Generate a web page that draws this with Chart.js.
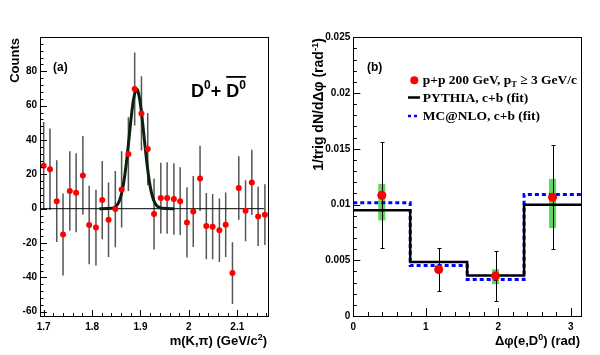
<!DOCTYPE html>
<html><head><meta charset="utf-8">
<script src="https://cdn.jsdelivr.net/npm/chart.js@4.4.1/dist/chart.umd.min.js"></script>
<style>
html,body{margin:0;padding:0;background:#fff;width:600px;height:355px;overflow:hidden}
canvas{position:absolute;top:0}
#c1{left:0}#c2{left:300px}
</style></head><body>
<canvas id="c1" width="300" height="355"></canvas>
<canvas id="c2" width="300" height="355"></canvas>
<script>
// ---------- panel (a) data ----------
const massX = [1.700,1.713,1.727,1.740,1.754,1.767,1.781,1.794,1.808,1.821,1.834,1.848,1.861,1.875,1.888,1.902,1.915,1.928,1.942,1.955,1.969,1.982,1.996,2.009,2.023,2.036,2.049,2.063,2.076,2.090,2.103,2.117,2.130,2.143,2.157];
const counts = [25,23,4.4,-15,10.3,9.3,19.4,-9.5,-11,5,-6.4,-0.2,11.2,31.8,69.7,55.5,34.7,-3.1,6.2,6.2,5.6,4.4,-8,-1.6,17.6,-10.1,-10.5,-12.6,-9.3,-37.5,12,-1.2,15.3,-4.5,-3.5];
const countErr = [25.5,23.7,23.8,23.9,23.2,23,22.9,22.8,22.1,22.8,21.7,22.2,22.2,21.5,21.2,21.6,21,20.7,20.6,20.8,20.8,19.7,20.5,20.7,19,19.3,19,18.5,18.8,18,18.5,17.7,19,17.3,17.7];
const fitX = [1.815,1.840,1.850,1.855,1.860,1.865,1.870,1.875,1.880,1.885,1.890,1.892,1.895,1.900,1.905,1.910,1.915,1.920,1.925,1.930,1.935,1.945,1.970];
const fitY = [0,0.2,1.6,3.7,7.8,14.7,24.7,37.5,51.1,62.6,68.9,69.5,68.2,60.6,48.4,34.8,22.5,13.0,6.8,3.2,1.3,0.2,0];
const massTicks = [1.7,1.8,1.9,2,2.1];
const countTicks = [-60,-40,-20,0,20,40,60,80];

// ---------- panel (b) data ----------
const dphiX = [0.393,1.178,1.963,2.749];
const corr = [0.01083,0.00417,0.00360,0.01065];
const corrStat = [0.00476,0.00197,0.00223,0.00466];
const sysLow = [0.00857,0.00390,0.00286,0.00788];
const sysHigh = [0.01185,0.00460,0.00420,0.01230];
const binEdges = [0,0.785,1.571,2.356,3.1416];
const pythia = [0.00949,0.00485,0.00363,0.00997];
const mcnlo = [0.01015,0.00453,0.00328,0.01089];
const dphiTicks = [0,1,2,3];
const corrTicks = [0,0.005,0.01,0.015,0.02,0.025];

const SANS = '"Liberation Sans", Arial, sans-serif';
const SERIF = '"Liberation Serif", "Times New Roman", serif';

function drawRich(ctx, parts, x, y, align){
  let w=0;
  parts.forEach(p=>{ctx.font=p.f; p.w=ctx.measureText(p.t).width; w+=p.w;});
  let cx = align==='right'? x-w : (align==='center'? x-w/2 : x);
  ctx.textAlign='left'; ctx.textBaseline='alphabetic';
  parts.forEach(p=>{ctx.font=p.f; ctx.fillText(p.t, cx, y+(p.dy||0)); p.x=cx; cx+=p.w;});
  return parts;
}
function drawTicks(chart, majorsX, minorX, majorsY, minorY, lenX, lenY){
  const ctx=chart.ctx, a=chart.chartArea, sx=chart.scales.x, sy=chart.scales.y;
  ctx.save(); ctx.strokeStyle='#000'; ctx.lineWidth=1;
  ctx.beginPath();
  minorX.forEach(v=>{const p=Math.round(sx.getPixelForValue(v))+0.5; const l=majorsX.some(m=>Math.abs(m-v)<1e-9)?lenX[0]:lenX[1]; ctx.moveTo(p,a.bottom); ctx.lineTo(p,a.bottom-l);});
  minorY.forEach(v=>{const p=Math.round(sy.getPixelForValue(v))+0.5; const l=majorsY.some(m=>Math.abs(m-v)<1e-9)?lenY[0]:lenY[1]; ctx.moveTo(a.left,p); ctx.lineTo(a.left+l,p);});
  ctx.stroke();
  ctx.strokeStyle='#000'; ctx.lineWidth=1;
  ctx.strokeRect(Math.round(a.left)+0.5, Math.round(a.top)+0.5, Math.round(a.right-a.left), Math.round(a.bottom-a.top));
  ctx.restore();
}
function range(a,b,s){const r=[];for(let v=a; v<=b+1e-9; v+=s) r.push(Math.round(v*1e6)/1e6); return r;}

// ---------- chart (a) ----------
const panelA = {
  id:'panelA',
  beforeDatasetsDraw(chart){
    const ctx=chart.ctx, sx=chart.scales.x, sy=chart.scales.y;
    ctx.save(); ctx.strokeStyle='#555'; ctx.lineWidth=1.5;
    ctx.beginPath();
    massX.forEach((m,i)=>{const px=sx.getPixelForValue(m);
      ctx.moveTo(px, sy.getPixelForValue(counts[i]+countErr[i]));
      ctx.lineTo(px, sy.getPixelForValue(counts[i]-countErr[i]));});
    ctx.stroke(); ctx.restore();
  },
  afterDraw(chart){
    const ctx=chart.ctx;
    drawTicks(chart, massTicks, range(1.70,2.16,0.02), countTicks, range(-60,96,4), [6,3], [7,3.5]);
    ctx.save(); ctx.fillStyle='#000';
    ctx.save(); ctx.translate(18.5,38); ctx.rotate(-Math.PI/2);
    drawRich(ctx,[{t:'Counts',f:'bold 13px '+SANS}],0,0,'right'); ctx.restore();
    drawRich(ctx,[{t:'m(K,',f:'bold 13px '+SANS},{t:'π',f:'bold 13px '+SANS},{t:') (GeV/c',f:'bold 13px '+SANS},{t:'2',f:'bold 9px '+SANS,dy:-5},{t:')',f:'bold 13px '+SANS}],267,345,'right');
    drawRich(ctx,[{t:'(a)',f:'bold 12px '+SANS}],53,71,'left');
    const p = drawRich(ctx,[{t:'D',f:'bold 18px '+SANS},{t:'0',f:'bold 12px '+SANS,dy:-8},{t:'+ ',f:'bold 18px '+SANS},{t:'D',f:'bold 18px '+SANS},{t:'0',f:'bold 12px '+SANS,dy:-8}],191,97,'left');
    ctx.fillRect(p[3].x, 76, p[3].w+p[4].w, 1.8);
    ctx.restore();
  }
};
new Chart(document.getElementById('c1'), {
  type:'scatter',
  data:{datasets:[
    {data:massX.map((m,i)=>({x:m,y:counts[i]})), pointRadius:3, pointBackgroundColor:'#ff0000', pointBorderWidth:0, showLine:false},
    {data:fitX.map((m,i)=>({x:m,y:fitY[i]})), showLine:true, pointRadius:0, borderColor:'#0e1f0e', borderWidth:3, cubicInterpolationMode:'monotone', fill:false},
    {data:[{x:1.69,y:0},{x:2.155,y:0}], showLine:true, pointRadius:0, borderColor:'#000', borderWidth:1}
  ]},
  options:{
    responsive:false, animation:false, events:[],
    layout:{padding:{left:0,right:32,top:37,bottom:0}},
    plugins:{legend:{display:false},tooltip:{enabled:false}},
    scales:{
      x:{type:'linear',min:1.6924,max:2.1634,
        afterBuildTicks:s=>{s.ticks=massTicks.map(v=>({value:v}));},
        afterFit:s=>{s.height=39;},
        grid:{display:false,drawTicks:false}, border:{display:false},
        ticks:{padding:5,color:'#000',font:{family:SANS,weight:'bold',size:10},callback:v=>String(v),maxRotation:0}},
      y:{type:'linear',min:-62.5,max:100,
        afterBuildTicks:s=>{s.ticks=countTicks.map(v=>({value:v}));},
        afterFit:s=>{s.width=40;},
        grid:{display:false,drawTicks:false}, border:{display:false},
        ticks:{padding:3,color:'#000',font:{family:SANS,weight:'bold',size:10},callback:v=>String(v)}}
    }
  },
  plugins:[panelA]
});

// ---------- chart (b) ----------
const panelB = {
  id:'panelB',
  beforeDatasetsDraw(chart){
    const ctx=chart.ctx, sx=chart.scales.x, sy=chart.scales.y;
    ctx.save(); ctx.fillStyle='rgba(90,210,90,0.95)';
    dphiX.forEach((d,i)=>{const px=sx.getPixelForValue(d); const t=sy.getPixelForValue(sysHigh[i]), b=sy.getPixelForValue(sysLow[i]);
      ctx.fillRect(px-3.5,t,7,b-t);});
    ctx.restore();
  },
  afterDatasetsDraw(chart){
    const ctx=chart.ctx, sx=chart.scales.x, sy=chart.scales.y;
    ctx.save(); ctx.strokeStyle='#000'; ctx.lineWidth=1;
    ctx.beginPath();
    dphiX.forEach((d,i)=>{const px=Math.round(sx.getPixelForValue(d))+0.5;
      const t=Math.round(sy.getPixelForValue(corr[i]+corrStat[i]))+0.5, b=Math.round(sy.getPixelForValue(corr[i]-corrStat[i]))+0.5;
      ctx.moveTo(px,t); ctx.lineTo(px,b); ctx.moveTo(px-2,t); ctx.lineTo(px+2,t); ctx.moveTo(px-2,b); ctx.lineTo(px+2,b);});
    ctx.stroke();
    ctx.fillStyle='#ff0000';
    dphiX.forEach((d,i)=>{ctx.beginPath(); ctx.arc(sx.getPixelForValue(d), sy.getPixelForValue(corr[i]), 4.5, 0, Math.PI*2); ctx.fill();});
    ctx.restore();
  },
  afterDraw(chart){
    const ctx=chart.ctx;
    drawTicks(chart, dphiTicks, range(0,3.1,0.2), corrTicks, range(0,0.025,0.001), [8,4], [7,3.5]);
    ctx.save(); ctx.fillStyle='#000';
    ctx.save(); ctx.translate(23,38); ctx.rotate(-Math.PI/2);
    drawRich(ctx,[{t:'1/trig dN/d',f:'bold 14px '+SANS},{t:'Δφ',f:'bold 14px '+SANS},{t:' (rad',f:'bold 14px '+SANS},{t:'-1',f:'bold 9.5px '+SANS,dy:-5.5},{t:')',f:'bold 14px '+SANS}],0,0,'right');
    ctx.restore();
    drawRich(ctx,[{t:'Δφ(e,D',f:'bold 13px '+SANS},{t:'0',f:'bold 9px '+SANS,dy:-5},{t:') (rad)',f:'bold 13px '+SANS}],280,345,'right');
    drawRich(ctx,[{t:'(b)',f:'bold 12px '+SANS}],67,71,'left');
    // legend
    ctx.fillStyle='#ff0000'; ctx.beginPath(); ctx.arc(114.3,80.3,4,0,Math.PI*2); ctx.fill();
    ctx.fillStyle='#000';
    drawRich(ctx,[{t:'p+p 200 GeV, p',f:'bold 13.5px '+SERIF},{t:'T',f:'bold 8.5px '+SERIF,dy:3},{t:' ≥ 3 GeV/c',f:'bold 13.5px '+SERIF}],122.7,83.5,'left');
    ctx.strokeStyle='#000'; ctx.lineWidth=2.5; ctx.beginPath(); ctx.moveTo(108,97.5); ctx.lineTo(120,97.5); ctx.stroke();
    drawRich(ctx,[{t:'PYTHIA, c+b (fit)',f:'bold 13.5px '+SERIF}],122.7,101.5,'left');
    ctx.strokeStyle='#0000ff'; ctx.setLineDash([3,3]); ctx.beginPath(); ctx.moveTo(108,116); ctx.lineTo(120,116); ctx.stroke(); ctx.setLineDash([]);
    drawRich(ctx,[{t:'MC@NLO, c+b (fit)',f:'bold 13.5px '+SERIF}],122.7,120,'left');
    ctx.restore();
  }
};
const stepData = arr => binEdges.map((e,i)=>({x:e,y:arr[Math.min(i,arr.length-1)]}));
new Chart(document.getElementById('c2'), {
  type:'scatter',
  data:{datasets:[
    {data:stepData(pythia), showLine:true, stepped:true, pointRadius:0, borderColor:'#000', borderWidth:2.5, fill:false},
    {data:stepData(mcnlo), showLine:true, stepped:true, pointRadius:0, borderColor:'#0000ff', borderWidth:3, borderDash:[4,3], fill:false}
  ]},
  options:{
    responsive:false, animation:false, events:[],
    layout:{padding:{left:0,right:19,top:37.3,bottom:0}},
    plugins:{legend:{display:false},tooltip:{enabled:false}},
    scales:{
      x:{type:'linear',min:0,max:3.1416,
        afterBuildTicks:s=>{s.ticks=dphiTicks.map(v=>({value:v}));},
        afterFit:s=>{s.height=39;},
        grid:{display:false,drawTicks:false}, border:{display:false},
        ticks:{padding:5,color:'#000',font:{family:SANS,weight:'bold',size:10},callback:v=>String(v),maxRotation:0}},
      y:{type:'linear',min:0,max:0.025,
        afterBuildTicks:s=>{s.ticks=corrTicks.map(v=>({value:v}));},
        afterFit:s=>{s.width=53.3;},
        grid:{display:false,drawTicks:false}, border:{display:false},
        ticks:{padding:3,color:'#000',font:{family:SANS,weight:'bold',size:10},callback:v=>String(v)}}
    }
  },
  plugins:[panelB]
});
</script>
</body></html>
